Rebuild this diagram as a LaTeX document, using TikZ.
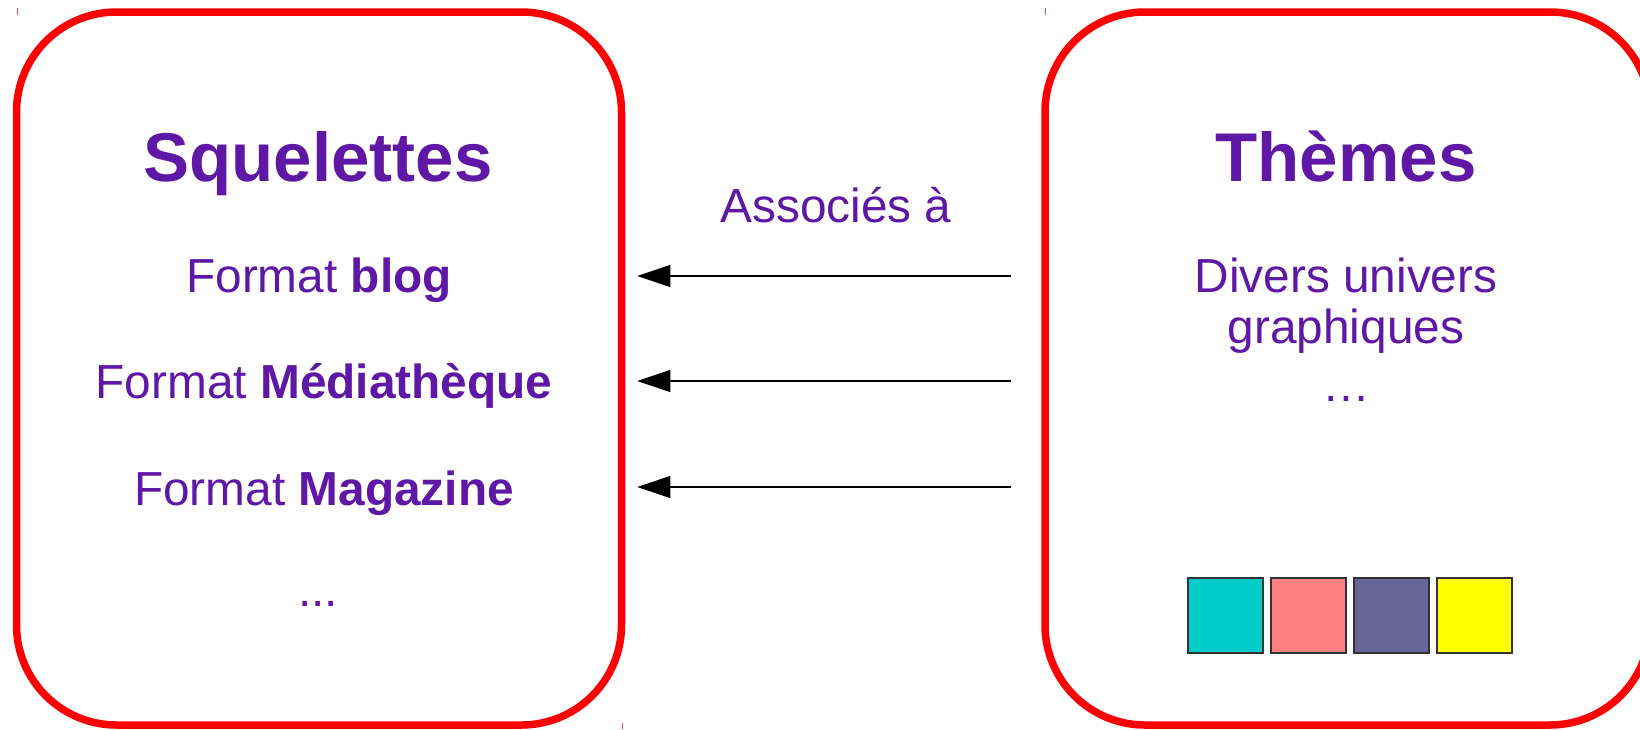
\documentclass[tikz,border=0pt]{standalone}
\usepackage{fontspec}
\setmainfont{Liberation Sans}
\usetikzlibrary{arrows.meta}
\definecolor{txtpurple}{RGB}{95,23,166}
\definecolor{cturq}{RGB}{0,204,204}
\definecolor{crose}{RGB}{255,128,128}
\definecolor{cardoise}{RGB}{102,102,153}
\definecolor{cjaune}{RGB}{255,255,0}

\begin{document}
\begin{tikzpicture}
		[x=1pt,y=-1pt,
		cadre/.style= {draw=red,line width=7.5pt,rounded corners=100pt,minimum width=605pt,minimum height=713pt},
		titre/.style= {text=txtpurple,font=\fontsize{69}{80}\selectfont\bfseries,anchor=base},
		ligne/.style= {text=txtpurple,font=\fontsize{47.8}{51}\selectfont,anchor=base},
		fleche/.style= {-{Triangle[length=33pt,width=22pt]},line width=1.2pt,draw=black,shorten >=12pt},
		carre/.style= {draw=black!80,line width=1.5pt,minimum size=75pt,inner sep=0pt}]

		\useasboundingbox (0,0) rectangle (1640,729);

		% les deux cadres
		\node[cadre] (sq) at (319,368.5) {};
		\node[cadre] (th) at (1347.5,368.5) {};

		% petites marques
		\draw[red!70,line width=1pt] (17,8) -- (17,15);
		\draw[red!70,line width=1pt] (1045,8) -- (1045,15);
		\draw[red!70,line width=1pt] (622,723) -- (622,729);

		% squelettes
		\node[titre] (tsq) at (318,181) {Squelettes};
		\node[ligne] (f1) at (319,292) {Format \textbf{blog}};
		\node[ligne] (f2) at (324,398) {Format \textbf{Médiathèque}};
		\node[ligne] (f3) at (324,505) {Format \textbf{Magazine}};
		\node[ligne] (f4) at (318,606) {...};

		% themes
		\node[titre] (tth) at (1346,181) {Thèmes};
		\node[ligne] (d1) at (1346,292) {Divers univers};
		\node[ligne] (d2) at (1346,343) {graphiques};
		\node[ligne] (d3) at (1346,401) {…};

		\foreach \c [count=\i from 0] in {cturq,crose,cardoise,cjaune}
			\node[carre,fill=\c] (c\i) at (1225.5+83*\i,615.5) {};

		% fleches
		\node[ligne] (assoc) at (836,222) {Associés à};
		\coordinate (a1) at (1011,276);
		\coordinate (a2) at (1011,381);
		\coordinate (a3) at (1011,487);
		\draw[fleche] (a1) -- (a1 -| sq.east);
		\draw[fleche] (a2) -- (a2 -| sq.east);
		\draw[fleche] (a3) -- (a3 -| sq.east);

	\end{tikzpicture}
\end{document}
